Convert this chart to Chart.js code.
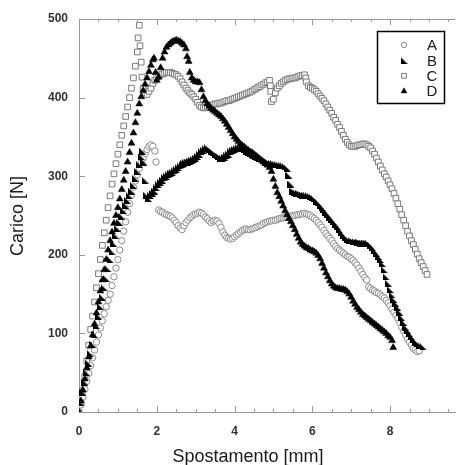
<!DOCTYPE html>
<html>
<head>
<meta charset="utf-8">
<script src="https://cdn.jsdelivr.net/npm/chart.js@4.4.1/dist/chart.umd.min.js"></script>
<style>
  html, body { margin: 0; padding: 0; background: #fff; }
  #wrap { width: 460px; height: 465px; }
</style>
</head>
<body>
<div id="wrap"><canvas id="chart" width="460" height="465"></canvas></div>
<script>
// displacement [mm], load [N]
const seriesNames = ["A", "B", "C", "D"];
const xTicks = [0, 2, 4, 6, 8];
const xMinorTicks = [0.5, 1, 1.5, 2.5, 3, 3.5, 4.5, 5, 5.5, 6.5, 7, 7.5, 8.5, 9, 9.5];
const yTicks = [0, 100, 200, 300, 400, 500];

const seriesA = [[0,0],[0.05,9],[0.1,19],[0.15,29],[0.2,39],[0.25,49],[0.3,59],[0.35,69],[0.4,79],[0.45,89],[0.5,98],[0.55,107],[0.6,116],[0.65,125],[0.7,134],[0.75,142],[0.8,150],[0.85,161],[0.9,172],[0.95,183],[1.0,194],[1.05,206],[1.1,218],[1.15,230],[1.2,242],[1.25,254],[1.3,265],[1.35,276],[1.4,286],[1.45,294],[1.5,302],[1.55,310],[1.6,317],[1.65,323],[1.7,329],[1.75,334],[1.8,338],[1.85,340],[1.9,338],[1.95,332],[1.98,318],
  [2.05,257],[2.1,255],[2.15,254],[2.2,252],[2.25,251],[2.3,250],[2.35,249],[2.4,247],[2.45,244],[2.5,241],[2.55,237],[2.6,234],[2.65,232],[2.7,237],[2.75,241],[2.8,244],[2.85,247],[2.9,249],[2.95,251],[3.0,252],[3.05,253],[3.1,254],[3.15,253],[3.2,251],[3.25,248],[3.3,246],[3.35,243],[3.4,241],[3.45,243],[3.5,244],[3.55,243],[3.6,240],[3.65,235],[3.7,229],[3.75,225],[3.8,222],[3.85,221],[3.9,220],[3.95,221],[4.0,223],[4.05,225],[4.1,227],[4.15,229],[4.2,231],[4.25,232],[4.3,233],[4.35,232],[4.4,232],[4.45,233],[4.5,234],[4.55,235],[4.6,236],[4.65,237],[4.7,238],[4.75,240],[4.8,241],[4.85,242],[4.9,243],[4.95,243],[5.0,244],[5.05,244],[5.1,245],[5.15,246],[5.2,247],[5.25,247],[5.3,248],[5.35,248],[5.4,249],[5.45,249],[5.5,250],[5.55,250],[5.6,251],[5.65,251],[5.7,252],[5.75,252],[5.8,253],[5.85,252],[5.9,251],[5.95,250],
  [6.0,248],[6.05,246],[6.1,244],[6.15,241],[6.2,238],[6.25,235],[6.3,231],[6.35,227],[6.4,224],[6.45,221],[6.5,218],[6.55,214],[6.6,211],[6.65,208],[6.7,206],[6.75,204],[6.8,202],[6.85,200],[6.9,198],[6.95,197],[7.0,195],[7.05,193],[7.1,190],[7.15,187],[7.2,183],[7.25,179],[7.3,175],[7.35,171],[7.4,168],[7.45,159],[7.5,157],[7.55,155],[7.6,154],[7.65,152],[7.7,151],[7.75,149],[7.8,147],[7.85,145],[7.9,142],[7.95,139],[8.0,135],[8.05,131],[8.1,127],[8.15,123],[8.2,119],[8.25,114],[8.3,108],[8.35,103],[8.4,98],[8.45,93],[8.5,89],[8.55,85],[8.6,81],[8.65,79],[8.7,77],[8.75,78]];

const seriesB = [[0,0],[0.05,12],[0.1,25],[0.15,38],[0.2,50],[0.25,62],[0.3,74],[0.35,86],[0.4,98],[0.45,110],[0.5,122],[0.55,134],[0.6,146],[0.65,158],[0.7,170],[0.75,182],[0.8,194],[0.85,204],[0.9,214],[0.95,224],[1.0,233],[1.05,241],[1.1,249],[1.15,256],[1.2,263],[1.25,269],[1.3,275],[1.35,281],[1.4,288],[1.45,297],[1.5,306],[1.55,315],[1.6,325],[1.63,332],[1.67,318],[1.7,295],[1.73,276],[1.78,272],
  [1.85,275],[1.9,278],[1.95,281],[2.0,285],[2.05,289],[2.1,292],[2.15,295],[2.2,298],[2.25,300],[2.3,302],[2.35,304],[2.4,305],[2.45,307],[2.5,309],[2.55,311],[2.6,313],[2.65,315],[2.7,316],[2.75,317],[2.8,318],[2.85,319],[2.9,320],[2.95,321],[3.0,323],[3.05,325],[3.1,328],[3.15,331],[3.2,333],[3.25,335],[3.3,336],[3.35,334],[3.4,332],[3.45,330],[3.5,328],[3.55,326],[3.6,325],[3.65,323],[3.7,322],[3.75,324],[3.8,326],[3.85,328],[3.9,331],[3.95,333],[4.0,334],[4.05,335],[4.1,336],[4.15,336],[4.2,335],[4.25,334],[4.3,332],[4.35,330],[4.4,329],[4.45,327],[4.5,326],[4.55,325],[4.6,324],[4.65,323],[4.7,322],[4.75,320],[4.8,318],[4.85,317],[4.9,316],[4.95,316],[5.0,316],[5.05,315],[5.1,315],[5.15,314],[5.2,314],[5.25,313],[5.3,312],[5.36,310],[5.4,301],[5.45,290],[5.5,281],[5.55,279],[5.6,278],[5.65,278],[5.7,277],[5.75,276],[5.8,276],[5.85,275],[5.9,275],[5.95,274],
  [6.0,273],[6.05,271],[6.1,268],[6.15,266],[6.2,263],[6.25,260],[6.3,257],[6.35,254],[6.4,251],[6.45,248],[6.5,245],[6.55,242],[6.6,239],[6.65,236],[6.7,232],[6.75,228],[6.8,225],[6.85,222],[6.9,219],[6.95,218],[7.0,218],[7.05,217],[7.1,217],[7.15,216],[7.2,216],[7.25,215],[7.3,215],[7.35,215],[7.4,215],[7.45,214],[7.5,212],[7.55,209],[7.6,205],[7.65,202],[7.7,198],[7.75,194],[7.8,189],[7.85,181],[7.9,172],[7.95,164],[8.0,156],[8.05,149],[8.1,143],[8.15,138],[8.2,133],[8.25,127],[8.3,120],[8.35,114],[8.4,108],[8.45,104],[8.5,100],[8.55,96],[8.6,92],[8.65,89],[8.7,87],[8.75,85],[8.8,84],[8.85,83]];

const seriesC = [[0,0],[0.05,12],[0.1,28],[0.15,45],[0.2,65],[0.25,85],[0.3,105],[0.35,122],[0.4,140],[0.45,158],[0.5,176],[0.55,194],[0.6,212],[0.65,228],[0.7,244],[0.75,260],[0.8,275],[0.85,290],[0.9,303],[0.95,316],[1.0,328],[1.05,340],[1.1,352],[1.15,364],[1.2,376],[1.25,388],[1.3,400],[1.35,412],[1.4,425],[1.45,440],[1.5,458],[1.52,476],[1.55,492],[1.57,466],[1.6,445],[1.62,426],[1.65,412],
  [1.7,406],[1.75,404],[1.8,408],[1.85,412],[1.9,418],[1.95,422],[2.0,426],[2.05,428],[2.1,429],[2.15,430],[2.2,431],[2.25,432],[2.3,432],[2.35,432],[2.4,431],[2.45,430],[2.5,429],[2.55,427],[2.6,424],[2.65,420],[2.7,416],[2.75,412],[2.8,409],[2.85,406],[2.9,404],[2.95,401],[3.0,398],[3.05,394],[3.1,390],[3.15,388],[3.2,387],[3.25,387],[3.3,388],[3.35,389],[3.4,390],[3.45,391],[3.5,392],[3.55,392],[3.6,393],[3.65,393],[3.7,394],[3.75,395],[3.8,396],[3.85,396],[3.9,397],[3.95,398],[4.0,399],[4.05,400],[4.1,401],[4.15,402],[4.2,403],[4.25,404],[4.3,405],[4.35,406],[4.4,407],[4.45,408],[4.5,410],[4.55,411],[4.6,413],[4.65,414],[4.7,416],[4.75,417],[4.8,419],[4.85,420],[4.9,422],[4.92,415],[4.93,408],[4.95,395],[5.0,398],[5.05,406],[5.1,412],[5.15,415],[5.2,418],[5.25,420],[5.3,422],[5.35,423],[5.4,424],[5.45,424],[5.5,425],[5.55,425],[5.6,426],[5.65,427],[5.7,428],[5.75,428],[5.8,429],[5.83,425],[5.85,420],[5.9,415],[5.95,413],
  [6.0,412],[6.05,410],[6.1,408],[6.15,405],[6.2,402],[6.25,399],[6.3,396],[6.35,392],[6.4,388],[6.45,384],[6.5,380],[6.55,375],[6.6,371],[6.65,366],[6.7,362],[6.75,357],[6.8,352],[6.85,347],[6.9,343],[6.95,340],[7.0,338],[7.05,338],[7.1,338],[7.15,339],[7.2,340],[7.25,340],[7.3,341],[7.35,341],[7.4,340],[7.45,338],[7.5,336],[7.55,332],[7.6,328],[7.65,323],[7.7,318],[7.75,313],[7.8,308],[7.85,303],[7.9,299],[7.95,294],[8.0,289],[8.05,284],[8.1,278],[8.15,272],[8.2,265],[8.25,258],[8.3,251],[8.35,244],[8.4,237],[8.45,230],[8.5,224],[8.55,218],[8.6,213],[8.65,207],[8.7,201],[8.75,195],[8.8,190],[8.85,185],[8.9,180],[8.95,175]];

const seriesD = [[0,0],[0.05,14],[0.1,28],[0.15,42],[0.2,56],[0.25,70],[0.3,84],[0.35,98],[0.4,112],[0.45,126],[0.5,140],[0.55,154],[0.6,168],[0.65,181],[0.7,194],[0.75,206],[0.8,218],[0.85,229],[0.9,240],[0.95,250],[1.0,260],[1.05,271],[1.1,283],[1.15,295],[1.2,306],[1.25,318],[1.3,330],[1.35,342],[1.4,355],[1.45,368],[1.5,380],[1.55,392],[1.6,401],[1.65,409],[1.7,417],[1.75,425],[1.8,433],[1.85,441],[1.9,448],[1.93,450],[1.97,432],[2.0,422],[2.05,426],[2.1,438],[2.15,450],[2.2,458],[2.25,464],[2.3,467],[2.35,469],[2.4,471],[2.45,472],[2.5,473],[2.55,472],[2.6,471],[2.65,469],[2.7,467],[2.75,462],[2.78,452],[2.82,446],
  [2.85,432],[2.9,425],[2.95,422],[3.0,420],[3.05,420],[3.1,419],[3.15,410],[3.2,401],[3.25,396],[3.3,392],[3.35,389],[3.4,386],[3.45,384],[3.5,382],[3.55,380],[3.6,378],[3.65,376],[3.7,373],[3.75,370],[3.8,366],[3.85,362],[3.9,358],[3.95,354],[4.0,350],[4.05,347],[4.1,344],[4.15,341],[4.2,339],[4.25,337],[4.3,335],[4.35,333],[4.4,331],[4.45,330],[4.5,328],[4.55,326],[4.6,324],[4.65,322],[4.7,320],[4.75,318],[4.8,316],[4.85,314],[4.9,311],[4.95,306],[5.0,296],[5.05,287],[5.1,279],[5.15,274],[5.2,268],[5.25,262],[5.3,256],[5.35,251],[5.4,246],[5.45,242],[5.5,237],[5.55,232],[5.6,226],[5.65,221],[5.7,216],[5.75,213],[5.8,211],[5.85,209],[5.9,208],[5.95,206],
  [6.0,205],[6.05,204],[6.1,202],[6.15,199],[6.2,195],[6.25,189],[6.3,183],[6.35,177],[6.4,172],[6.45,167],[6.5,163],[6.55,160],[6.6,158],[6.65,157],[6.7,157],[6.75,156],[6.8,156],[6.85,155],[6.9,153],[6.95,150],[7.0,146],[7.05,141],[7.1,137],[7.15,133],[7.2,130],[7.25,127],[7.3,124],[7.35,122],[7.4,120],[7.45,118],[7.5,116],[7.55,114],[7.6,112],[7.65,110],[7.7,108],[7.75,106],[7.8,104],[7.85,102],[7.9,100],[7.95,97],[8.0,95],[8.05,91],[8.08,82]];

const FONT = "Arial, 'Liberation Sans', Helvetica, sans-serif";

// "◣" marker for series B
function rightTriangle(size) {
  const c = document.createElement("canvas");
  c.width = size;
  c.height = size;
  const g = c.getContext("2d");
  g.fillStyle = "#000";
  g.beginPath();
  g.moveTo(0, 0);
  g.lineTo(size, size);
  g.lineTo(0, size);
  g.closePath();
  g.fill();
  return c;
}

const toPoints = (rows) => rows.map((r) => ({ x: r[0], y: r[1] }));

const frame = {
  id: "frame",
  beforeDatasetsDraw(chart) {
    const { ctx, chartArea: a, scales } = chart;
    const x = scales.x, y = scales.y;
    ctx.save();
    ctx.strokeStyle = "#9a9a9a";
    ctx.lineWidth = 1;
    ctx.beginPath();
    // top frame line
    ctx.moveTo(a.left, a.top + 0.5);
    ctx.lineTo(a.right, a.top + 0.5);
    // x ticks point inward, bottom and top
    xTicks.forEach((v) => {
      const px = Math.round(x.getPixelForValue(v)) + 0.5;
      ctx.moveTo(px, a.bottom); ctx.lineTo(px, a.bottom - 6);
      ctx.moveTo(px, a.top); ctx.lineTo(px, a.top + 6);
    });
    xMinorTicks.forEach((v) => {
      const px = Math.round(x.getPixelForValue(v)) + 0.5;
      ctx.moveTo(px, a.bottom); ctx.lineTo(px, a.bottom - 3);
      ctx.moveTo(px, a.top); ctx.lineTo(px, a.top + 3);
    });
    yTicks.forEach((v) => {
      const py = Math.round(y.getPixelForValue(v)) + 0.5;
      ctx.moveTo(a.left, py); ctx.lineTo(a.left + 6, py);
    });
    ctx.stroke();

    // axis titles
    ctx.fillStyle = "#1a1a1a";
    ctx.font = "18px " + FONT;
    ctx.textAlign = "center";
    ctx.textBaseline = "alphabetic";
    ctx.fillText("Spostamento [mm]", 248, 462);
    ctx.translate(23, 216);
    ctx.rotate(-Math.PI / 2);
    ctx.fillText("Carico [N]", 0, 0);
    ctx.restore();
  },
  afterDraw(chart) {
    const ctx = chart.ctx;
    ctx.save();
    ctx.strokeStyle = "#000";
    ctx.lineWidth = 1.5;
    ctx.strokeRect(377.5, 31.5, 67, 72);
    ctx.font = "15px " + FONT;
    ctx.textAlign = "center";
    ctx.textBaseline = "middle";
    chart.data.datasets.forEach((ds, i) => {
      const cy = 45 + i * 15.4;
      ctx.fillStyle = ds.pointBackgroundColor;
      ctx.strokeStyle = ds.pointBorderColor;
      ctx.lineWidth = ds.pointBorderWidth;
      Chart.helpers.drawPoint(ctx, {
        pointStyle: ds.pointStyle,
        radius: ds.pointRadius * 0.85,
        borderWidth: ds.pointBorderWidth,
        rotation: 0
      }, 404, cy);
      ctx.fillStyle = "#1a1a1a";
      ctx.fillText(ds.label, 432, cy + 1);
    });
    ctx.restore();
  }
};

const ctx = document.getElementById("chart").getContext("2d");

new Chart(ctx, {
  type: "scatter",
  data: {
    datasets: [
      {
        label: seriesNames[0],
        data: toPoints(seriesA),
        pointStyle: "circle",
        pointRadius: 3.2,
        pointBorderWidth: 1,
        pointBorderColor: "#8c8c8c",
        pointBackgroundColor: "#ffffff",
        order: 3
      },
      {
        label: seriesNames[1],
        data: toPoints(seriesB),
        pointStyle: rightTriangle(7),
        pointRadius: 3.5,
        pointBorderWidth: 0,
        pointBorderColor: "#000",
        pointBackgroundColor: "#000",
        order: 1
      },
      {
        label: seriesNames[2],
        data: toPoints(seriesC),
        pointStyle: "rect",
        pointRadius: 4,
        pointBorderWidth: 1,
        pointBorderColor: "#7a7a7a",
        pointBackgroundColor: "#ffffff",
        order: 4
      },
      {
        label: seriesNames[3],
        data: toPoints(seriesD),
        pointStyle: "triangle",
        pointRadius: 4,
        pointBorderWidth: 0.5,
        pointBorderColor: "#000",
        pointBackgroundColor: "#000",
        order: 2
      }
    ]
  },
  options: {
    responsive: false,
    animation: false,
    layout: { padding: { top: 19, right: 0, bottom: 0, left: 0 } },
    plugins: {
      legend: { display: false },
      tooltip: { enabled: false }
    },
    scales: {
      x: {
        type: "linear",
        min: 0,
        max: 9.67,
        afterBuildTicks: (s) => { s.ticks = xTicks.map((v) => ({ value: v })); },
        afterFit: (s) => { s.height = 53; },
        grid: { display: false },
        border: { display: true, color: "#9a9a9a", width: 1 },
        ticks: {
          color: "#333",
          font: { size: 12, weight: "bold", family: FONT },
          padding: 4,
          maxRotation: 0,
          autoSkip: false
        }
      },
      y: {
        min: 0,
        max: 500,
        afterBuildTicks: (s) => { s.ticks = yTicks.map((v) => ({ value: v })); },
        afterFit: (s) => { s.width = 79; },
        grid: { display: false },
        border: { display: true, color: "#9a9a9a", width: 1 },
        ticks: {
          color: "#333",
          font: { size: 12, weight: "bold", family: FONT },
          padding: 3
        }
      }
    }
  },
  plugins: [frame]
});
</script>
</body>
</html>
